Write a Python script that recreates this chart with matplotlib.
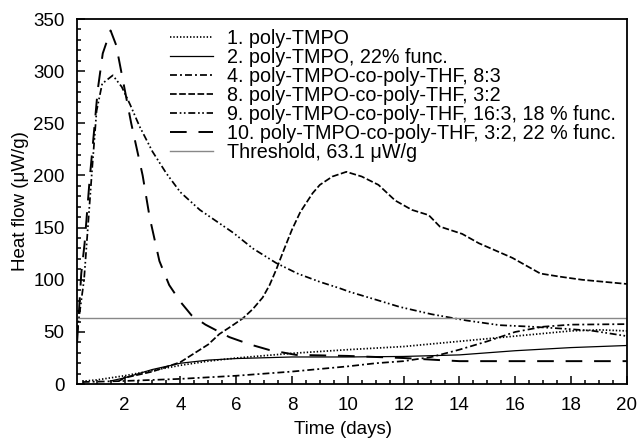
import matplotlib
matplotlib.use('Agg')
import matplotlib.pyplot as plt

plt.rcParams['font.family'] = ['Liberation Sans', 'DejaVu Sans']
plt.rcParams['lines.scale_dashes'] = False

# curve data: time (days) / heat flow (uW/g)
t1 = [0.6, 1.0, 1.5, 2.0, 3.0, 4.0, 5.0, 6.0, 8.0, 10.0, 12.0, 14.0, 16.0, 18.0, 19.0, 20.0]
q1 = [3, 4, 6, 8, 13, 18, 22, 25, 29.5, 33, 36, 41, 46, 51, 52, 51]

t2 = [1.5, 2.0, 3.0, 4.0, 5.0, 6.0, 8.0, 10.0, 12.0, 14.0, 16.0, 18.0, 20.0]
q2 = [3, 6, 14, 20, 23, 24.5, 26, 26, 26.5, 28, 32, 35, 37]

t4 = [0.5, 2.0, 4.0, 6.0, 8.0, 10.0, 11.0, 12.0, 13.0, 14.0, 15.0, 16.0, 17.0, 18.0, 20.0]
q4 = [2, 3, 5, 8, 12, 17, 20, 22, 26, 33, 41, 50, 55, 57, 57.5]

t8 = [1.8, 2.0, 3.0, 4.0, 5.0, 5.4, 5.8, 6.24, 6.6, 6.95, 7.2, 7.44, 7.7, 8.0, 8.3,
      8.74, 9.0, 9.45, 9.95, 10.5, 11.1, 11.7, 12.3, 12.9, 13.3, 14.1, 14.7, 15.3,
      15.9, 16.5, 16.9, 17.6, 18.4, 20.0]
q8 = [3, 6, 12, 21, 38, 48, 55, 63, 72, 83, 95, 110, 128, 148, 165,
      183, 191, 199, 203.5, 199, 191, 176, 167, 162, 151, 144, 135, 128,
      121, 112, 106, 103, 100, 96]

t9 = [0.3, 0.55, 0.7, 0.85, 1.0, 1.2, 1.58, 1.9, 2.2, 2.54, 3.0, 3.5, 4.0, 4.7, 5.3, 5.9,
      6.6, 7.44, 8.2, 9.0, 9.7, 10.06, 11.0, 11.86, 13.0, 14.25, 15.44, 16.6, 17.8, 18.8, 20.0]
q9 = [50, 100, 155, 210, 262, 288, 296, 285, 268, 247, 223, 202, 184, 167, 156, 145,
      130, 116, 106, 98, 92, 88.5, 81, 74, 67, 61, 56.5, 55, 53, 51, 46]

t10 = [0.3, 0.45, 0.57, 0.75, 0.9, 1.04, 1.22, 1.5, 1.7, 1.88, 2.24, 2.65, 2.9,
       3.25, 3.6, 4.0, 4.4, 4.9, 5.4, 5.76, 6.5, 7.2, 8.15, 10.0, 12.0, 13.3, 14.0, 20.0]
q10 = [40, 106, 135, 196, 240, 282, 317, 339, 325, 300, 250, 200, 160,
       118, 95, 79, 66, 57, 50, 45, 38, 32.6, 28, 27, 25, 23, 22, 22]

threshold = 63.1

labels = ['1. poly-TMPO',
          '2. poly-TMPO, 22% func.',
          '4. poly-TMPO-co-poly-THF, 8:3',
          '8. poly-TMPO-co-poly-THF, 3:2',
          '9. poly-TMPO-co-poly-THF, 16:3, 18 % func.',
          '10. poly-TMPO-co-poly-THF, 3:2, 22 % func.',
          'Threshold, 63.1 \u03bcW/g']

fig = plt.figure(figsize=(6.37, 4.42), dpi=100)
ax = fig.add_axes([0.121, 0.131, 0.863, 0.826])

lw = 1.25
ax.plot(t1, q1, color='black', lw=lw, linestyle=(0, (1.0, 1.4)), label=labels[0])
ax.plot(t2, q2, color='black', lw=0.9, linestyle='-', label=labels[1])
ax.plot(t4, q4, color='black', lw=lw, linestyle=(0, (5, 2.2, 1.4, 2.2)), label=labels[2])
ax.plot(t8, q8, color='black', lw=lw, linestyle=(0, (4.8, 1.8)), label=labels[3])
ax.plot(t9, q9, color='black', lw=lw, linestyle=(0, (5, 2, 1.2, 1.8, 1.2, 2)), label=labels[4])
ax.plot(t10, q10, color='black', lw=1.4, linestyle=(0, (12, 8.5)), label=labels[5])
ax.axhline(threshold, color='#888888', lw=1.0, label=labels[6])

ax.set_xlim(0.3, 20)
ax.set_ylim(0, 350)
ax.set_xticks([2, 4, 6, 8, 10, 12, 14, 16, 18, 20])
ax.set_xticks([x * 0.5 for x in range(1, 41)], minor=True)
ax.set_yticks(range(0, 351, 50))
ax.set_yticks(range(0, 351, 10), minor=True)
ax.tick_params(which='both', direction='in', top=False, right=False, width=1.1)
ax.tick_params(which='major', length=6, pad=9, labelsize=13.5)
ax.tick_params(which='minor', length=3)
for s in ax.spines.values():
    s.set_linewidth(1.3)

ax.set_xlabel('Time (days)', fontsize=13.5)
ax.set_ylabel('Heat flow (\u03bcW/g)', fontsize=13.5)
ax.xaxis.set_label_coords(0.483, -0.1)
ax.yaxis.set_label_coords(-0.087, 0.5)

ax.legend(loc='upper left', bbox_to_anchor=(170 / 637, 1 - 29 / 442),
          bbox_transform=fig.transFigure, frameon=False, fontsize=14.2,
          borderpad=0, borderaxespad=0, handlelength=2.2, handletextpad=0.7,
          labelspacing=0.0)

fig.savefig('out.png', dpi=100)
